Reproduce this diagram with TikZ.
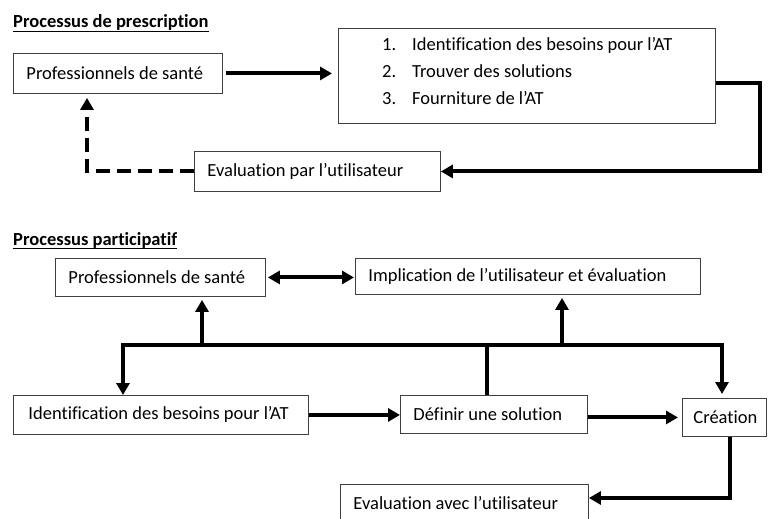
\documentclass[tikz,border=0pt]{standalone}
\usepackage{fontspec}
\setmainfont{Carlito}[Ligatures={NoCommon}]
\usetikzlibrary{arrows.meta,calc}
\tikzset{
  every node/.style={font=\fontsize{18.5}{22}\selectfont, inner sep=0pt},
  boxst/.style={draw=black!75, line width=0.9pt, anchor=north west, inner sep=0pt},
  conn/.style={line width=4pt, line join=miter, -{Triangle[length=12pt,width=13pt]}},
  dconn/.style={conn, dash pattern=on 14pt off 7pt},
  bothconn/.style={line width=4pt, {Triangle[length=12pt,width=13pt]}-{Triangle[length=12pt,width=13pt]}},
  plainline/.style={line width=4pt, line join=miter},
  ttl/.style={anchor=base west, font=\fontsize{18.5}{22}\selectfont\bfseries},
  itemtext/.style={anchor=base west},
}
\newcommand\padtext[3][13pt]{\makebox[#2][l]{\hspace*{#1}#3}}
\begin{document}
\begin{tikzpicture}[x=1pt,y=-1pt]
\useasboundingbox (0,0) rectangle (768,519);
% ---------- Processus de prescription ----------
\node[ttl] (T1) at (13,28) {Processus de prescription};
\draw[line width=1.1pt] ([yshift=-3.5pt]T1.base west) -- ([yshift=-3.5pt]T1.base east);

\node[boxst, minimum width=209pt, minimum height=40pt] (A) at (13,53) {\padtext{209pt}{Professionnels de santé}};
\node[boxst, minimum width=377pt, minimum height=95pt] (B) at (338,28) {};
\node[itemtext] (B1) at (382,51) {\makebox[30pt][l]{1.}Identification des besoins pour l’AT};
\node[itemtext] (B2) at (382,77.5) {\makebox[30pt][l]{2.}Trouver des solutions};
\node[itemtext] (B3) at (382,104) {\makebox[30pt][l]{3.}Fourniture de l’AT};
\node[boxst, minimum width=246pt, minimum height=40pt] (C) at (194,151) {\padtext{246pt}{Evaluation par l’utilisateur}};

\coordinate (Bout) at ($(B.north east)+(0,55)$);
\coordinate (Ain) at ($(A.south west)+(74,0)$);
\draw[conn, shorten <=3pt, shorten >=6pt] (A.east) -- (A.east -| B.west);
\draw[conn] (Bout) -- ++(44,0) |- (C.east);
\draw[dconn, shorten >=4pt] (C.west) -| (Ain);

% ---------- Processus participatif ----------
\node[ttl] (T2) at (13,245) {Processus participatif};
\draw[line width=1.1pt] ([yshift=-3.5pt]T2.base west) -- ([yshift=-3.5pt]T2.base east);

\node[boxst, minimum width=210pt, minimum height=38pt] (D) at (55,258) {\padtext{210pt}{Professionnels de santé}};
\node[boxst, minimum width=345pt, minimum height=36pt] (E) at (355,258) {\padtext{345pt}{Implication de l’utilisateur et évaluation}};
\node[boxst, minimum width=295pt, minimum height=39pt] (F) at (13,395) {\padtext[15pt]{295pt}{Identification des besoins pour l’AT}};
\node[boxst, minimum width=187pt, minimum height=38pt] (G) at (400,395) {\padtext{187pt}{Définir une solution}};
\node[boxst, minimum width=84pt, minimum height=38pt] (H) at (682,398) {\padtext[11pt]{84pt}{Création}};
\node[boxst, minimum width=248pt, minimum height=38pt] (I) at (340,484) {\padtext{248pt}{Evaluation avec l’utilisateur}};

\coordinate (bL) at (123,345);
\coordinate (bR) at (722,345);
\coordinate (bD) at (202,345);
\coordinate (bE) at (562,345);
\coordinate (bG) at (487,345);
\coordinate (Hout) at ($(H.south west)+(48,0)$);
\coordinate (Iin) at ($(I.north east)+(0,14)$);

\draw[bothconn, shorten <=2pt, shorten >=1pt] (D.east) -- (D.east -| E.west);
\draw[conn] (bG) -| (bL |- F.north);
\draw[conn, shorten >=4pt] (bG) -| (bR |- H.north);
\draw[plainline] (bG |- G.north) -- (bG);
\draw[conn, shorten >=3pt] (bD) -- (bD |- D.south);
\draw[conn, shorten >=3pt] (bE) -- (bE |- E.south);
\draw[conn] (F.east) -- (F.east -| G.west);
\draw[conn, shorten >=4pt] (H.west -| G.east) -- (H.west);
\draw[conn] (Hout) |- (Iin);
\end{tikzpicture}
\end{document}
